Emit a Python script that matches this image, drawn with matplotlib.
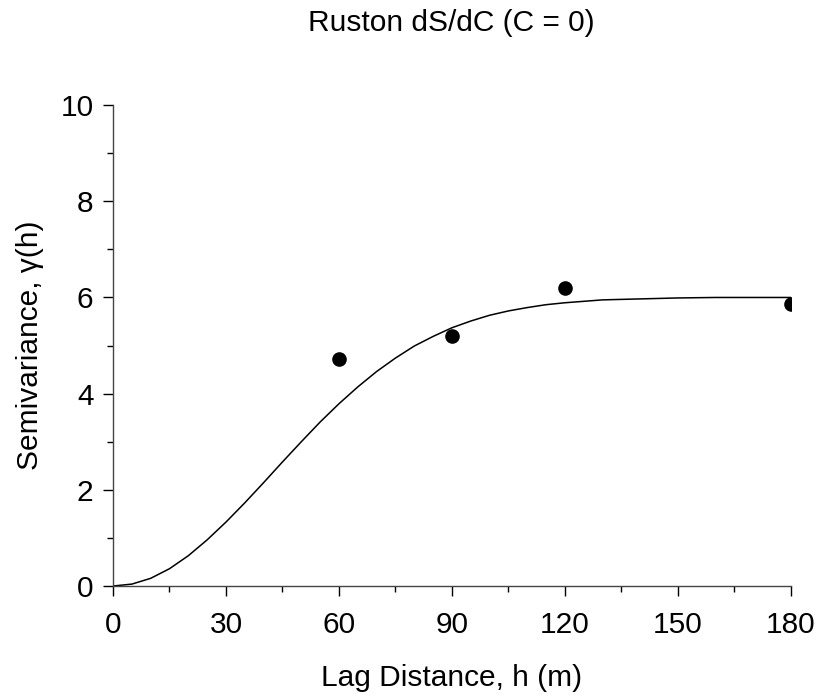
import matplotlib
matplotlib.use("Agg")
import matplotlib.pyplot as plt
from matplotlib.ticker import MultipleLocator

plt.rcParams['font.family'] = ['Liberation Sans', 'DejaVu Sans']

# observed semivariance
lag_obs = [60, 90, 120, 180]
gamma_obs = [4.72, 5.2, 6.2, 5.87]

# fitted model curve, every 5 m
lag_fit = [0, 5, 10, 15, 20, 25, 30, 35, 40, 45, 50, 55, 60, 65, 70, 75, 80, 85, 90,
           95, 100, 105, 110, 115, 120, 125, 130, 135, 140, 145, 150, 155, 160, 165,
           170, 175, 180]
gamma_fit = [0.0, 0.04, 0.16, 0.36, 0.63, 0.96, 1.33, 1.73, 2.15, 2.58, 3.0, 3.41,
             3.79, 4.14, 4.46, 4.74, 4.99, 5.19, 5.37, 5.51, 5.63, 5.72, 5.79, 5.85,
             5.89, 5.92, 5.95, 5.96, 5.97, 5.98, 5.99, 5.995, 6.0, 6.0, 6.0, 6.0, 6.0]

x_ticks = [0, 30, 60, 90, 120, 150, 180]
y_ticks = [0, 2, 4, 6, 8, 10]

fs = 21.5

fig = plt.figure(figsize=(8.17, 6.96), dpi=100)
ax = fig.add_axes([0.1383, 0.158, 0.8297, 0.691])

ax.plot(lag_fit, gamma_fit, color='black', linewidth=1.1)
ax.plot(lag_obs, gamma_obs, 'o', color='black', markersize=9.5)

ax.set_xlim(0, 180)
ax.set_ylim(0, 10)
ax.set_xticks(x_ticks)
ax.set_yticks(y_ticks)
ax.xaxis.set_minor_locator(MultipleLocator(15))
ax.yaxis.set_minor_locator(MultipleLocator(1))
ax.tick_params(which='major', direction='out', length=7, width=1, labelsize=fs)
ax.tick_params(axis='x', which='major', pad=11)
ax.tick_params(axis='y', which='major', pad=7)
ax.tick_params(which='minor', direction='out', length=4, width=1)

for side in ['top', 'right']:
  ax.spines[side].set_visible(False)
for side in ['left', 'bottom']:
  ax.spines[side].set_color('#444444')
  ax.spines[side].set_linewidth(1)

ax.set_xlabel('Lag Distance, h (m)', fontsize=fs, labelpad=18)
ax.set_ylabel('Semivariance, γ(h)', fontsize=fs, labelpad=12)

fig.text(0.553, 0.955, 'Ruston dS/dC (C = 0)', fontsize=fs, ha='center', va='baseline')

fig.savefig('out.png', dpi=100)
